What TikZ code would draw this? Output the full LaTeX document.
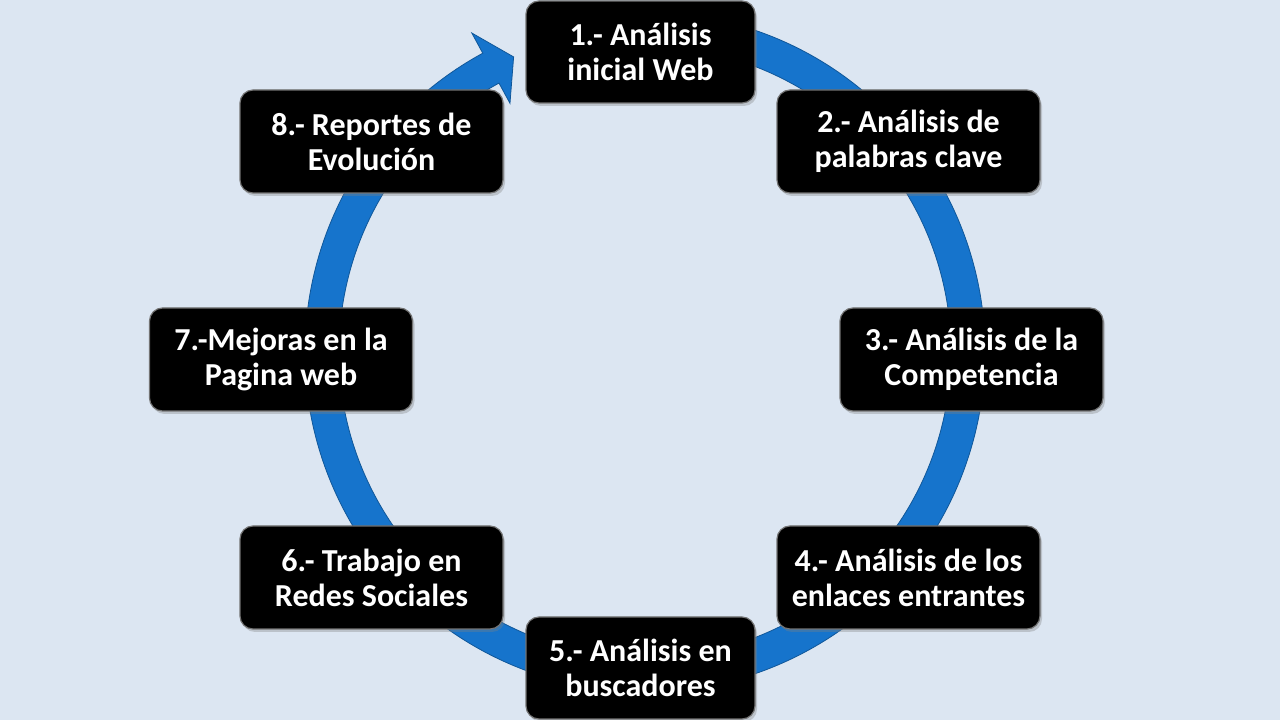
\documentclass[tikz,border=0pt]{standalone}
\usepackage{fontspec}
\setmainfont{Carlito}
\usetikzlibrary{calc,shadows}
\definecolor{fondo}{RGB}{220,230,242}
\definecolor{anillo}{RGB}{22,116,204}

\begin{document}
\begin{tikzpicture}[x=1pt,y=1pt,
    etapa/.style={rectangle,rounded corners=13pt,minimum width=263pt,minimum height=103pt,
      fill=black,draw=black!55,line width=1.2pt,
      drop shadow={opacity=0.35,shadow xshift=2pt,shadow yshift=-3pt},
      text=white,align=center,font=\fontsize{32}{35}\selectfont\bfseries},
    corta/.style={etapa,minimum width=229pt,minimum height=102pt}]
      \fill[fondo] (0,0) rectangle (1280,720);
      \useasboundingbox (0,0) rectangle (1280,720);
      \coordinate (centro) at (645,368);

      % anillo con punta de flecha
      \fill[anillo,draw=anillo!75!black,line width=0.8pt]
        ($(centro)+(75:340pt)$) arc[start angle=75,end angle=-241.5,radius=340pt]
        -- ($(centro)+(-241.5:363pt)$) -- ($(centro)+(-246:323pt)$)
        -- ($(centro)+(-241.5:283pt)$) -- ($(centro)+(-241.5:306pt)$)
        arc[start angle=-241.5,end angle=75,radius=306pt] -- cycle;

      \node[corta] (paso1) at (640.5,668) {
        1.- Análisis\\
        inicial Web
      };
      \node[etapa] (paso2) at (908.5,578.5) {
        2.- Análisis de\\
        palabras clave
      };
      \node[etapa] (paso3) at (971.5,360.5) {
        3.- Análisis de la\\
        Competencia
      };
      \node[etapa] (paso4) at (908.5,142.5) {
        4.- Análisis de los\\
        enlaces entrantes
      };
      \node[corta] (paso5) at (640.5,52) {
        5.- Análisis en\\
        buscadores
      };
      \node[etapa] (paso6) at (371.5,142.5) {
        6.- Trabajo en\\
        Redes Sociales
      };
      \node[etapa] (paso7) at (281,360.5) {
        7.-Mejoras en la\\
        Pagina web
      };
      \node[etapa] (paso8) at (371.5,578.5) {
        8.- Reportes de\\
        Evolución
      };
    \end{tikzpicture}
\end{document}
